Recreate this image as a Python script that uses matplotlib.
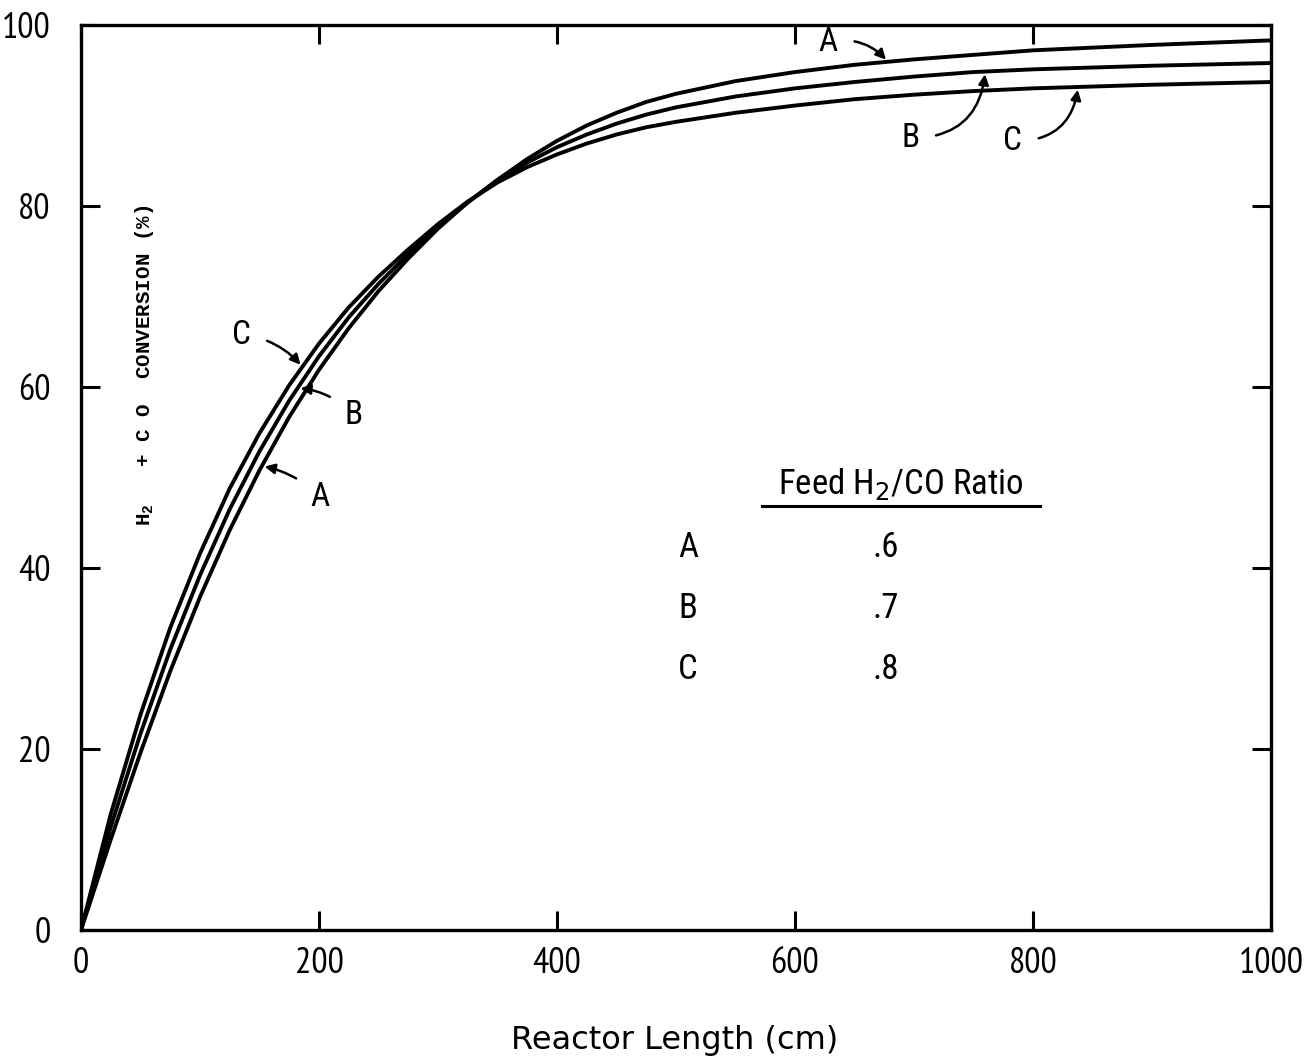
import matplotlib
matplotlib.use("Agg")
import numpy as np
import matplotlib.pyplot as plt

# reactor length (cm) and H2 + CO conversion (%) for each feed ratio
length = [0, 25, 50, 75, 100, 125, 150, 175, 200, 225, 250, 275, 300, 325, 350, 375,
          400, 425, 450, 475, 500, 550, 600, 650, 700, 750, 800, 900, 1000]
conv_a = [0, 10.0, 19.6, 28.6, 36.8, 44.2, 50.8, 56.7, 61.9, 66.5, 70.6, 74.2, 77.5, 80.4, 82.9, 85.2,
          87.2, 88.9, 90.3, 91.5, 92.4, 93.8, 94.8, 95.6, 96.2, 96.7, 97.2, 97.8, 98.3]
conv_b = [0, 11.4, 21.7, 31.0, 39.2, 46.5, 52.9, 58.5, 63.4, 67.7, 71.4, 74.7, 77.7, 80.4, 82.8, 84.8,
          86.5, 87.9, 89.1, 90.1, 90.9, 92.1, 93.0, 93.7, 94.3, 94.8, 95.1, 95.5, 95.8]
conv_c = [0, 12.8, 23.8, 33.4, 41.6, 48.8, 54.9, 60.2, 64.8, 68.8, 72.2, 75.2, 78.0, 80.5, 82.6, 84.3,
          85.7, 86.9, 87.9, 88.7, 89.3, 90.3, 91.1, 91.8, 92.3, 92.7, 93.0, 93.4, 93.7]

ratio_names = ["A", "B", "C"]
ratio_values = [".6", ".7", ".8"]

narrow = "PT Sans Narrow"
cond = "Roboto Condensed"

fig = plt.figure(figsize=(13.07, 10.61), dpi=100)
ax = fig.add_axes([81 / 1307, 1 - 930 / 1061, 1190 / 1307, 905 / 1061])

for y in (conv_a, conv_b, conv_c):
    ax.plot(length, y, color="black", lw=2.8, solid_joinstyle="round")

ax.set_xlim(0, 1000)
ax.set_ylim(0, 100)
ax.set_xticks([0, 200, 400, 600, 800, 1000])
ax.set_yticks([0, 20, 40, 60, 80, 100])
ax.tick_params(direction="in", length=14, width=2.2, top=True, right=True,
               labelsize=26, colors="black")
ax.tick_params(axis="x", pad=12)
ax.tick_params(axis="y", pad=22)
for lab in ax.get_xticklabels() + ax.get_yticklabels():
    lab.set_family(narrow)
for sp in ax.spines.values():
    sp.set_linewidth(2.4)


def on_curve(x, y):
    return (x, np.interp(x, length, y))


# curve labels with arrows
arrow = dict(arrowstyle="-|>", color="black", lw=1.8, mutation_scale=15)
lab_font = dict(fontsize=24, family=cond, ha="center", va="center")
ax.annotate("C", xy=on_curve(186, conv_c), xytext=(135, 65.8),
            arrowprops=dict(arrow, connectionstyle="arc3,rad=-0.2", shrinkA=10), **lab_font)
ax.annotate("B", xy=on_curve(182, conv_b), xytext=(229, 56.9),
            arrowprops=dict(arrow, connectionstyle="arc3,rad=0.2", shrinkA=10), **lab_font)
ax.annotate("A", xy=on_curve(152, conv_a), xytext=(201, 47.9),
            arrowprops=dict(arrow, connectionstyle="arc3,rad=0.15", shrinkA=10), **lab_font)
ax.annotate("A", xy=on_curve(678, conv_a), xytext=(628, 98.1),
            arrowprops=dict(arrow, connectionstyle="arc3,rad=-0.3", shrinkA=10), **lab_font)
ax.annotate("B", xy=on_curve(760, conv_b), xytext=(697, 87.5),
            arrowprops=dict(arrow, connectionstyle="arc3,rad=0.45", shrinkA=10), **lab_font)
ax.annotate("C", xy=on_curve(838, conv_c), xytext=(783, 87.2),
            arrowprops=dict(arrow, connectionstyle="arc3,rad=0.45", shrinkA=10), **lab_font)

# feed ratio table
ax.text(0.689, 0.493, "Feed H$_2$/CO Ratio", transform=ax.transAxes, fontsize=25,
        family=cond, ha="center", va="center")
ax.plot([0.572, 0.806], [0.4685, 0.4685], transform=ax.transAxes, color="black", lw=2.2)
for i, (n, v) in enumerate(zip(ratio_names, ratio_values)):
    yy = 0.423 - i * 0.0675
    ax.text(0.510, yy, n, transform=ax.transAxes, fontsize=25, family=cond,
            ha="center", va="center")
    ax.text(0.676, yy, v, transform=ax.transAxes, fontsize=25, family=cond,
            ha="center", va="center")

# axis titles
fig.text(145 / 1307, 1 - 365 / 1061, r"$\mathregular{H_2}$   + C O  CONVERSION (%)",
         rotation=90, ha="center", va="center", fontsize=15,
         family="Liberation Mono", weight="bold")
fig.text(675 / 1307, 1 - 1040 / 1061, "Reactor Length (cm)", ha="center", va="center",
         fontsize=23, family="DejaVu Sans")

fig.savefig("out.png", dpi=100)
